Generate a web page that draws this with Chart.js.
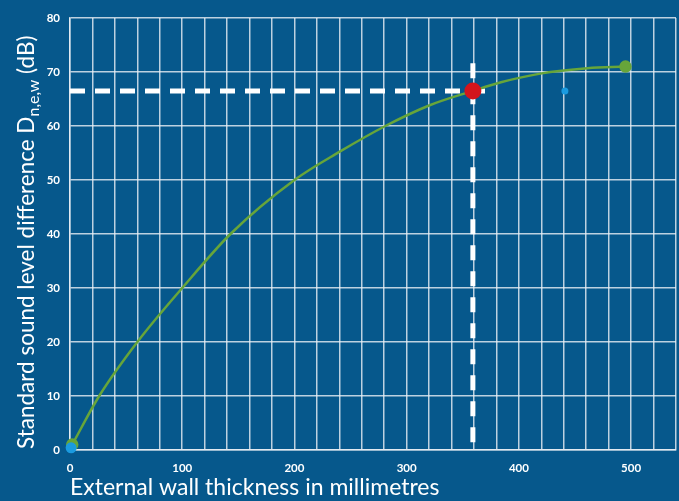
<!DOCTYPE html>
<html>
<head>
<meta charset="utf-8">
<script src="https://cdn.jsdelivr.net/npm/chart.js@4"></script>
<style>
  html, body { margin: 0; padding: 0; background: #06588c; }
  #wrap { width: 679px; height: 501px; }
</style>
</head>
<body>
<div id="wrap"><canvas id="chart"></canvas></div>
<script>
// values
const curveX = [2, 26, 60, 100, 143, 200, 240, 281, 320, 359, 384, 419, 461, 495];
const curveY = [1, 10, 20, 30, 40, 50, 55.2, 60, 63.8, 66.5, 68.1, 69.7, 70.7, 71];

const hDashX = [0, 375];
const hDashY = [66.5, 66.5];
const vDashX = [359, 359];
const vDashY = [71.6, 0];

const markX = [359];
const markY = [66.5];
const startDotX = [1];
const startDotY = [0.4];
const sideDotX = [441];
const sideDotY = [66.5];

const xTickLabels = ["0", "100", "200", "300", "400", "500"];
const yTickLabels = ["0", "10", "20", "30", "40", "50", "60", "70", "80"];

const toPoints = (xs, ys) => xs.map((x, i) => ({ x: x, y: ys[i] }));

const bg = "#06588c";
const gridColor = "rgba(235,240,245,0.8)";

const backgroundPlugin = {
    id: "bg",
    beforeDraw(chart) {
        const ctx = chart.ctx;
        ctx.save();
        ctx.fillStyle = bg;
        ctx.fillRect(0, 0, chart.width, chart.height);
        ctx.restore();
    }
};

// y title has a subscript, so it is drawn by hand
const yTitlePlugin = {
    id: "yTitle",
    afterDraw(chart) {
        const ctx = chart.ctx;
        ctx.save();
        ctx.translate(34, 449);
        ctx.rotate(-Math.PI / 2);
        ctx.fillStyle = "#ffffff";
        ctx.textBaseline = "alphabetic";
        ctx.textAlign = "left";
        ctx.font = "22.5px Lato";
        let x = 0;
        const main = "Standard sound level difference D";
        ctx.fillText(main, x, 0);
        x += ctx.measureText(main).width;
        ctx.font = "16px Lato";
        ctx.fillText("n,e,w", x, 5);
        x += ctx.measureText("n,e,w").width;
        ctx.font = "22.5px Lato";
        ctx.fillText(" (dB)", x, 0);
        ctx.restore();
    }
};

const ctx = document.getElementById("chart").getContext("2d");
new Chart(ctx, {
    type: "scatter",
    data: {
        datasets: [
            {
                data: toPoints(startDotX, startDotY),
                backgroundColor: "#1a9be0",
                borderWidth: 0,
                pointRadius: 5.5,
                clip: false,
                order: 1
            },
            {
                data: toPoints(markX, markY),
                backgroundColor: "#d3151c",
                borderWidth: 0,
                pointRadius: 8.5,
                clip: false,
                order: 2
            },
            {
                data: toPoints(sideDotX, sideDotY),
                backgroundColor: "#1a9be0",
                borderWidth: 0,
                pointRadius: 3.5,
                order: 3
            },
            {
                data: toPoints(curveX, curveY),
                showLine: true,
                borderColor: "#67a53a",
                backgroundColor: "#67a53a",
                borderWidth: 2.5,
                cubicInterpolationMode: "monotone",
                pointRadius: c => (c.dataIndex === 0 || c.dataIndex === curveX.length - 1) ? 5 : 0,
                clip: false,
                order: 4
            },
            {
                data: toPoints(hDashX, hDashY),
                showLine: true,
                borderColor: "#ffffff",
                borderWidth: 5,
                borderDash: [15, 10],
                pointRadius: 0,
                order: 5
            },
            {
                data: toPoints(vDashX, vDashY),
                showLine: true,
                borderColor: "#ffffff",
                borderWidth: 5,
                borderDash: [15, 11],
                pointRadius: 0,
                order: 6
            }
        ]
    },
    options: {
        responsive: true,
        maintainAspectRatio: false,
        animation: false,
        events: [],
        layout: { autoPadding: false, padding: { top: 18, right: 3, left: 0, bottom: 0 } },
        plugins: {
            legend: { display: false },
            tooltip: { enabled: false }
        },
        scales: {
            x: {
                type: "linear",
                min: 0,
                max: 540,
                afterFit: s => {
                    s.height = 51;
                    s.paddingLeft = 0;
                    s.paddingRight = 0;
                },
                grid: { color: gridColor, lineWidth: 1.5, drawTicks: false },
                border: { color: gridColor, width: 1.5 },
                ticks: {
                    stepSize: 20,
                    autoSkip: false,
                    maxRotation: 0,
                    color: "#ffffff",
                    padding: 11,
                    font: { family: "Lato", size: 11.5, weight: "bold" },
                    callback: v => (v % 100 === 0 ? xTickLabels[v / 100] : "")
                },
                title: {
                    display: true,
                    text: "External wall thickness in millimetres",
                    align: "start",
                    color: "#ffffff",
                    font: { family: "Lato", size: 23 },
                    padding: { top: 3, bottom: 0 }
                }
            },
            y: {
                type: "linear",
                min: 0,
                max: 80,
                afterFit: s => { s.width = 70; },
                grid: { color: gridColor, lineWidth: 1.5, drawTicks: false },
                border: { color: gridColor, width: 1.5 },
                ticks: {
                    stepSize: 10,
                    color: "#ffffff",
                    padding: 10,
                    font: { family: "Lato", size: 11.5, weight: "bold" },
                    callback: v => yTickLabels[v / 10]
                }
            }
        }
    },
    plugins: [backgroundPlugin, yTitlePlugin]
});
</script>
</body>
</html>
